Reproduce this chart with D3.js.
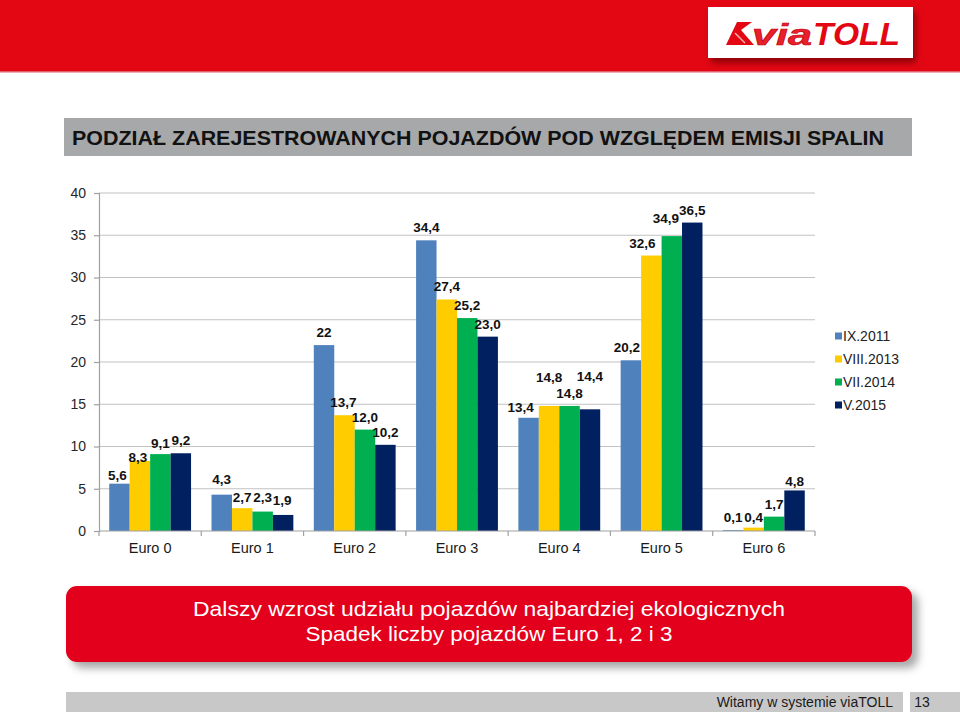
<!DOCTYPE html>
<html>
<head>
<meta charset="utf-8">
<script src="https://cdn.jsdelivr.net/npm/d3@7"></script>
<style>
  html, body { margin: 0; padding: 0; background: #fff; }
  svg { display: block; font-family: "Liberation Sans", Arial, sans-serif; }
</style>
</head>
<body>
<svg id="chart" width="960" height="712"></svg>
<script>
// ---------------- DATA ----------------
const categories = ["Euro 0", "Euro 1", "Euro 2", "Euro 3", "Euro 4", "Euro 5", "Euro 6"];
const seriesNames = ["IX.2011", "VIII.2013", "VII.2014", "V.2015"];
const values_IX2011   = [5.6, 4.3, 22.0, 34.4, 13.4, 20.2, 0.1];
const values_VIII2013 = [8.3, 2.7, 13.7, 27.4, 14.8, 32.6, 0.4];
const values_VII2014  = [9.1, 2.3, 12.0, 25.2, 14.8, 34.9, 1.7];
const values_V2015    = [9.2, 1.9, 10.2, 23.0, 14.4, 36.5, 4.8];
const labels_IX2011   = ["5,6", "4,3", "22", "34,4", "13,4", "20,2", "0,1"];
const labels_VIII2013 = ["8,3", "2,7", "13,7", "27,4", "14,8", "32,6", "0,4"];
const labels_VII2014  = ["9,1", "2,3", "12,0", "25,2", "14,8", "34,9", "1,7"];
const labels_V2015    = ["9,2", "1,9", "10,2", "23,0", "14,4", "36,5", "4,8"];
const yTicks = [0, 5, 10, 15, 20, 25, 30, 35, 40];
const titleText = "PODZIAŁ ZAREJESTROWANYCH POJAZDÓW POD WZGLĘDEM EMISJI SPALIN";
const bannerLines = ["Dalszy wzrost udziału pojazdów najbardziej ekologicznych", "Spadek liczby pojazdów Euro 1, 2 i 3"];
const footerText = "Witamy w systemie viaTOLL";
const pageNumber = "13";

// ---------------- STYLE / LAYOUT ----------------
const colors = ["#4F81BD", "#FFCC00", "#00B050", "#002060"];
// manual label nudges [dx, dy] keyed "series-category" (as in the source slide)
const LABEL_NUDGE = {
  "0-0": [-2, 4], "1-0": [-2, 9], "2-0": [0, 2],
  "0-1": [0, -3], "1-1": [0, 2], "2-1": [0, -2], "3-1": [-1, -2],
  "1-2": [-1, 0],
  "0-4": [-8, 2], "1-4": [0, -16], "3-4": [0, -20],
  "0-5": [-4, 0], "1-5": [-9, 0], "2-5": [-6, -5],
  "1-6": [0, 2], "3-6": [0, 4]
};

const series = [
  { name: seriesNames[0], values: values_IX2011, labels: labels_IX2011 },
  { name: seriesNames[1], values: values_VIII2013, labels: labels_VIII2013 },
  { name: seriesNames[2], values: values_VII2014, labels: labels_VII2014 },
  { name: seriesNames[3], values: values_V2015, labels: labels_V2015 }
];

(function draw() {
const svg = d3.select("#chart");
const defs = svg.append("defs");

// shadows
const sh = defs.append("filter").attr("id", "shadow").attr("x", "-5%").attr("y", "-20%").attr("width", "115%").attr("height", "160%");
sh.append("feDropShadow").attr("dx", 6).attr("dy", 6).attr("stdDeviation", 4).attr("flood-color", "#000").attr("flood-opacity", 0.35);
const sh2 = defs.append("filter").attr("id", "logoShadow").attr("x", "-10%").attr("y", "-20%").attr("width", "125%").attr("height", "160%");
sh2.append("feDropShadow").attr("dx", 3).attr("dy", 5).attr("stdDeviation", 3).attr("flood-color", "#5a0000").attr("flood-opacity", 0.6);

// ---------------- HEADER ----------------
svg.append("rect").attr("x", 0).attr("y", 0).attr("width", 960).attr("height", 72).attr("fill", "#E30613");
svg.append("rect").attr("x", 0).attr("y", 71).attr("width", 960).attr("height", 1.5).attr("fill", "#E06070");

// logo
const logo = svg.append("g");
logo.append("rect").attr("x", 708).attr("y", 7).attr("width", 205).attr("height", 51)
  .attr("fill", "#fff").attr("filter", "url(#logoShadow)");
logo.append("path")
  .attr("d", "M737,22 L752,22 L741,30 L754,45 L726,45 Z")
  .attr("fill", "#E30613");
logo.append("path").attr("d", "M735,33 L745,43").attr("stroke", "#f3b0b0").attr("stroke-width", 1.5);
logo.append("text").attr("x", 752).attr("y", 45)
  .attr("font-size", 30).attr("font-weight", "bold").attr("font-style", "italic")
  .attr("fill", "#E8202A").attr("stroke", "#c00010").attr("stroke-width", 0.6)
  .attr("textLength", 60).attr("lengthAdjust", "spacingAndGlyphs")
  .text("via");
logo.append("text").attr("x", 813).attr("y", 45)
  .attr("font-size", 32).attr("font-weight", "bold").attr("font-style", "italic")
  .attr("fill", "#E30613")
  .attr("textLength", 87).attr("lengthAdjust", "spacingAndGlyphs")
  .text("TOLL");

// ---------------- TITLE BAR ----------------
svg.append("rect").attr("x", 64).attr("y", 118).attr("width", 848).attr("height", 38).attr("fill", "#A6A8A9");
svg.append("text").attr("x", 72).attr("y", 144.5)
  .attr("font-family", "'Liberation Sans Narrow', 'Arial Narrow', 'Liberation Sans', Arial, sans-serif")
  .attr("font-size", 21).attr("font-weight", "bold").attr("fill", "#111")
  .attr("textLength", 812).attr("lengthAdjust", "spacingAndGlyphs")
  .text(titleText);

// ---------------- CHART ----------------
const pL = 99, pR = 815, pT = 193, pB = 531;
const y = d3.scaleLinear().domain([0, 40]).range([pB, pT]);
const x0 = d3.scaleBand().domain(categories).range([pL, pR]).paddingInner(0.2).paddingOuter(0.1);
const x1 = d3.scaleBand().domain(d3.range(series.length)).range([0, x0.bandwidth()]);

// gridlines
svg.append("g").selectAll("line").data(yTicks.filter(t => t > 0)).join("line")
  .attr("x1", pL).attr("x2", pR)
  .attr("y1", d => y(d)).attr("y2", d => y(d))
  .attr("stroke", "#C2C2C2").attr("stroke-width", 1.2);

// y axis
const yAxis = svg.append("g").attr("transform", `translate(${pL},0)`)
  .call(d3.axisLeft(y).tickValues(yTicks).tickSize(5).tickPadding(8).tickFormat(d3.format("d")));
yAxis.select(".domain").attr("stroke", "#A0A0A0").attr("stroke-width", 1.2);
yAxis.selectAll(".tick line").attr("stroke", "#A0A0A0").attr("stroke-width", 1.2);
yAxis.selectAll(".tick text").attr("font-size", 14).attr("fill", "#262626")
  .attr("font-family", "'Liberation Sans', Arial, sans-serif");

// bars
const groups = svg.append("g").selectAll("g").data(series).join("g")
  .attr("fill", (d, i) => colors[i]);
groups.each(function (s, si) {
  d3.select(this).selectAll("rect").data(s.values).join("rect")
    .attr("x", (v, ci) => x0(categories[ci]) + x1(si))
    .attr("y", v => y(v))
    .attr("width", x1.bandwidth())
    .attr("height", v => y(0) - y(v));
});

// x axis line & boundary ticks
const step = x0.step();
svg.append("line").attr("x1", pL).attr("x2", pR).attr("y1", pB).attr("y2", pB)
  .attr("stroke", "#A0A0A0").attr("stroke-width", 1.2);
const boundaries = d3.range(categories.length + 1).map(i => pL + i * step);
svg.append("g").selectAll("line").data(boundaries).join("line")
  .attr("x1", d => d).attr("x2", d => d).attr("y1", pB).attr("y2", pB + 5)
  .attr("stroke", "#A0A0A0").attr("stroke-width", 1.2);
svg.append("g").selectAll("text").data(categories).join("text")
  .attr("x", c => x0(c) + x0.bandwidth() / 2).attr("y", pB + 22)
  .attr("text-anchor", "middle").attr("font-size", 14.5).attr("fill", "#1a1a1a")
  .text(c => c);

// value labels
series.forEach((s, si) => {
  svg.append("g").selectAll("text").data(s.values).join("text")
    .attr("x", (v, ci) => x0(categories[ci]) + x1(si) + x1.bandwidth() / 2 + ((LABEL_NUDGE[si + "-" + ci] || [0, 0])[0]))
    .attr("y", (v, ci) => y(v) - 8 + ((LABEL_NUDGE[si + "-" + ci] || [0, 0])[1]))
    .attr("text-anchor", "middle").attr("font-size", 13.5).attr("font-weight", "bold").attr("fill", "#111")
    .text((v, ci) => s.labels[ci]);
});

// legend
const legend = svg.append("g").attr("transform", "translate(835,336)");
const li = legend.selectAll("g").data(seriesNames).join("g")
  .attr("transform", (d, i) => `translate(0,${i * 23})`);
li.append("rect").attr("x", 0).attr("y", -3.5).attr("width", 7).attr("height", 7).attr("fill", (d, i) => colors[i]);
li.append("text").attr("x", 8).attr("y", 5).attr("font-size", 14).attr("fill", "#222").text(d => d);

// ---------------- BANNER ----------------
svg.append("rect").attr("x", 66).attr("y", 586).attr("width", 846).attr("height", 76).attr("rx", 11)
  .attr("fill", "#E2001A").attr("filter", "url(#shadow)");
const bannerWidths = [592, 367];
svg.append("g").selectAll("text").data(bannerLines).join("text")
  .attr("x", 489).attr("y", (d, i) => 616 + i * 25)
  .attr("text-anchor", "middle")
  .attr("font-family", "'Liberation Sans Narrow', 'Arial Narrow', 'Liberation Sans', Arial, sans-serif")
  .attr("font-size", 21).attr("fill", "#fff")
  .attr("textLength", (d, i) => bannerWidths[i]).attr("lengthAdjust", "spacingAndGlyphs")
  .text(d => d);

// ---------------- FOOTER ----------------
svg.append("rect").attr("x", 66).attr("y", 692).attr("width", 837).attr("height", 20).attr("fill", "#C8C8C8");
svg.append("rect").attr("x", 910).attr("y", 692).attr("width", 50).attr("height", 20).attr("fill", "#C8C8C8");
svg.append("text").attr("x", 893).attr("y", 707).attr("text-anchor", "end")
  .attr("font-size", 14).attr("fill", "#1a1a1a").text(footerText);
svg.append("text").attr("x", 922).attr("y", 707).attr("text-anchor", "middle")
  .attr("font-size", 14).attr("fill", "#1a1a1a").text(pageNumber);
})();
</script>
</body>
</html>
